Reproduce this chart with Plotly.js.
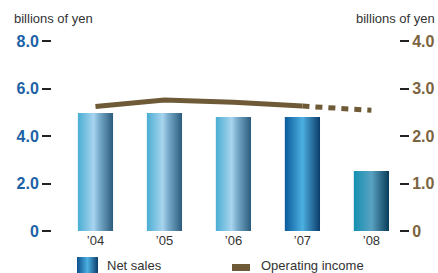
<!DOCTYPE html>
<html><head><meta charset="utf-8">
<script src="https://cdn.plot.ly/plotly-3.0.1.min.js"></script>
<style>html,body{margin:0;padding:0;background:#fff;}#chart{width:438px;height:273px;}</style>
</head><body><div id="chart"></div>
<script>
const years = ["’04","’05","’06","’07","’08"];
const netSales = [4.97, 4.97, 4.8, 4.8, 2.53];
const opIncomeActual = [2.62, 2.76, 2.71, 2.63, null];
const opIncomeForecastYears = ["’07","’08"];
const opIncomeForecast = [2.63, 2.54];
const leftTicks = [0, 2, 4, 6, 8];
const leftTickText = ["0","2.0","4.0","6.0","8.0"];
const rightTicks = [0, 1, 2, 3, 4];
const rightTickText = ["0","1.0","2.0","3.0","4.0"];
const legendNames = ["Net sales", "Operating income"];

const blue = "#1d62a6", brown = "#7b6440", lineBrown = "#6f5a38";

const data = [
  {type:"bar", x:years, y:netSales, name:legendNames[0], marker:{color:"#4aaed3"}, yaxis:"y"},
  {type:"scatter", mode:"lines", x:years, y:opIncomeActual, name:legendNames[1], yaxis:"y2",
   line:{color:lineBrown, width:5}, connectgaps:false},
  {type:"scatter", mode:"lines", x:opIncomeForecastYears, y:opIncomeForecast, showlegend:false, yaxis:"y2",
   line:{color:lineBrown, width:5, dash:"7px,6px"}}
];

const F = "Liberation Sans, Arial, sans-serif";
const layout = {
  width:438, height:273,
  margin:{l:52, r:39, t:41, b:42},
  paper_bgcolor:"#fff", plot_bgcolor:"#fff",
  bargap:0.49,
  showlegend:false,
  font:{family:F, color:"#333"},
  xaxis:{type:"category", range:[-0.63,4.4], showgrid:false, zeroline:false, showline:false,
         ticks:"", tickfont:{size:13, color:"#333"}, fixedrange:true},
  yaxis:{range:[0,8], tickvals:leftTicks, ticktext:leftTickText, showgrid:false, zeroline:false, showline:false,
         ticks:"outside", ticklen:9, tickwidth:2, tickcolor:"#222",
         tickfont:{size:16, color:blue, family:F, weight:"bold"}},
  yaxis2:{range:[0,4], overlaying:"y", side:"right", tickvals:rightTicks, ticktext:rightTickText, showgrid:false,
         zeroline:false, showline:false, ticks:"outside", ticklen:9, tickwidth:2, tickcolor:"#222",
         tickfont:{size:16, color:brown, family:F, weight:"bold"}},
  shapes:[
    {type:"rect", xref:"paper", yref:"paper", x0:0.072, x1:0.1326, y0:-0.23, y1:-0.137,
     line:{width:0}, fillcolor:"#2a7fc0"},
    {type:"rect", xref:"paper", yref:"paper", x0:0.5187, x1:0.5706, y0:-0.2105, y1:-0.1737,
     line:{width:0}, fillcolor:lineBrown}
  ],
  annotations:[
    {xref:"paper", yref:"paper", x:-0.115, y:1.121, xanchor:"left", yanchor:"middle", showarrow:false,
     text:"billions of yen", font:{size:13, color:"#333"}},
    {xref:"paper", yref:"paper", x:1.11, y:1.121, xanchor:"right", yanchor:"middle", showarrow:false,
     text:"billions of yen", font:{size:13, color:"#333"}},
    {xref:"paper", yref:"paper", x:0.1527, y:-0.181, xanchor:"left", yanchor:"middle", showarrow:false,
     text:legendNames[0], font:{size:13, color:"#333"}},
    {xref:"paper", yref:"paper", x:0.5965, y:-0.181, xanchor:"left", yanchor:"middle", showarrow:false,
     text:legendNames[1], font:{size:13, color:"#333"}}
  ]
};

const gradients = [
  [["0%","#4aaed3"],["45%","#a8d4ee"],["60%","#7aaecd"],["100%","#2b5b7c"]],
  [["0%","#4aaed3"],["45%","#a8d4ee"],["60%","#7aaecd"],["100%","#2b5b7c"]],
  [["0%","#4aaed3"],["45%","#a8d4ee"],["60%","#7aaecd"],["100%","#2b5b7c"]],
  [["0%","#0a5a9a"],["50%","#4cb0e2"],["100%","#0b3c6a"]],
  [["0%","#1490b0"],["50%","#5aa2c2"],["100%","#083c58"]],
  [["0%","#0a4f8c"],["50%","#4cb0e2"],["100%","#0b3c6a"]]
];

Plotly.newPlot("chart", data, layout, {staticPlot:true}).then(function(gd){
  const ns = "http://www.w3.org/2000/svg";
  const svg = gd.querySelector("svg.main-svg");
  let defs = svg.querySelector("defs");
  if(!defs){ defs = document.createElementNS(ns,"defs"); svg.insertBefore(defs, svg.firstChild); }
  gradients.forEach(function(stops,i){
    const g = document.createElementNS(ns,"linearGradient");
    g.setAttribute("id","bargrad"+i);
    g.setAttribute("x1","0"); g.setAttribute("y1","0"); g.setAttribute("x2","1"); g.setAttribute("y2","0");
    stops.forEach(function(s){
      const st = document.createElementNS(ns,"stop");
      st.setAttribute("offset", s[0]); st.setAttribute("stop-color", s[1]);
      g.appendChild(st);
    });
    defs.appendChild(g);
  });
  gd.querySelectorAll(".barlayer .point path").forEach(function(p,i){
    p.style.fill = "url(#bargrad"+i+")";
  });
  const shp = gd.querySelectorAll(".shapelayer path");
  if(shp.length) shp[0].style.fill = "url(#bargrad5)";
});
</script></body></html>
